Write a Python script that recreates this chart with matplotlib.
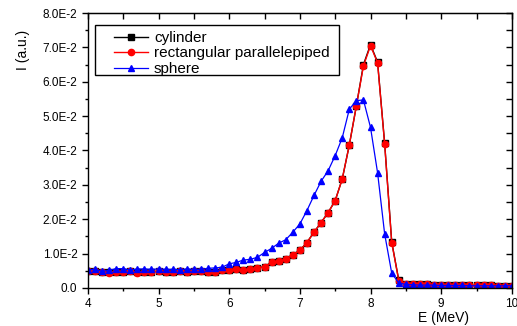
import numpy as np
import matplotlib
matplotlib.use("Agg")
import matplotlib.pyplot as plt
from matplotlib.ticker import MultipleLocator, FuncFormatter
from matplotlib.patches import Rectangle

plt.rcParams['font.family'] = ['Liberation Sans', 'DejaVu Sans']

# energy grid (MeV)
energy = [round(4.0 + 0.1 * k, 1) for k in range(61)]

# 8.5 .. 10.0 MeV
tail = [0.0012, 0.0011, 0.0010, 0.0010, 0.0009, 0.0009, 0.0008, 0.0008,
        0.0008, 0.0007, 0.0007, 0.0007, 0.0007, 0.0006, 0.0006, 0.0006]

cylinder = [0.0049, 0.0050, 0.0046, 0.0045, 0.0047, 0.0046, 0.0048, 0.0045, 0.0045, 0.0047,
            0.0048, 0.0045, 0.0047, 0.0048, 0.0047, 0.0049, 0.0050, 0.0046, 0.0047, 0.0051,
            0.0052, 0.0055, 0.0052, 0.0054, 0.0057, 0.0062, 0.0074, 0.0077, 0.0084, 0.0097,
            0.0109, 0.0132, 0.0162, 0.0190, 0.0219, 0.0254, 0.0317, 0.0416, 0.0530, 0.0650,
            0.0708, 0.0657, 0.0421, 0.0134, 0.0022] + tail

rect_par = [0.0048, 0.0050, 0.0045, 0.0044, 0.0047, 0.0046, 0.0048, 0.0044, 0.0045, 0.0047,
            0.0048, 0.0045, 0.0047, 0.0048, 0.0047, 0.0049, 0.0050, 0.0046, 0.0047, 0.0051,
            0.0052, 0.0055, 0.0052, 0.0054, 0.0057, 0.0062, 0.0074, 0.0077, 0.0084, 0.0097,
            0.0109, 0.0132, 0.0162, 0.0190, 0.0219, 0.0254, 0.0317, 0.0416, 0.0530, 0.0646,
            0.0705, 0.0655, 0.0419, 0.0132, 0.0021] + tail

sphere = [0.0052, 0.0054, 0.0048, 0.0051, 0.0056, 0.0056, 0.0052, 0.0055, 0.0055, 0.0054,
          0.0055, 0.0054, 0.0054, 0.0053, 0.0055, 0.0054, 0.0054, 0.0057, 0.0058, 0.0060,
          0.0070, 0.0074, 0.0081, 0.0083, 0.0089, 0.0103, 0.0115, 0.0130, 0.0140, 0.0162,
          0.0186, 0.0225, 0.0269, 0.0310, 0.0341, 0.0385, 0.0437, 0.0520, 0.0545, 0.0547,
          0.0467, 0.0335, 0.0157, 0.0043, 0.0014, 0.0010, 0.0009, 0.0008, 0.0008, 0.0008,
          0.0007, 0.0007, 0.0007, 0.0007, 0.0006, 0.0006, 0.0006, 0.0006, 0.0006, 0.0006, 0.0006]

fig = plt.figure(figsize=(5.17, 3.26), dpi=100)
ax = fig.add_axes([0.170, 0.117, 0.820, 0.843])

ax.plot(energy, cylinder, color='black', marker='s', ms=4.5, lw=1.0, label='cylinder')
ax.plot(energy, rect_par, color='red', marker='o', ms=4.5, lw=1.0, label='rectangular parallelepiped')
ax.plot(energy, sphere, color='blue', marker='^', ms=5, lw=0.9, label='sphere')

ax.set_xlim(4, 10)
ax.set_ylim(0, 0.08)
ax.xaxis.set_major_locator(MultipleLocator(1))
ax.xaxis.set_minor_locator(MultipleLocator(0.5))
ax.yaxis.set_major_locator(MultipleLocator(0.01))
ax.yaxis.set_minor_locator(MultipleLocator(0.005))


def sci(v, pos):
    if abs(v) < 1e-12:
        return "0.0"
    e = int(np.floor(np.log10(abs(v))))
    m = v / 10 ** e
    return "%.1fE%d" % (m, e)


ax.yaxis.set_major_formatter(FuncFormatter(sci))
ax.tick_params(axis='both', which='major', labelsize=8.5, direction='out', length=4, width=1)
ax.tick_params(axis='both', which='minor', direction='out', length=2.5, width=1)

# top / right ticks pointing inwards
axt = ax.secondary_xaxis('top')
axt.xaxis.set_major_locator(MultipleLocator(0.5))
axt.tick_params(direction='in', length=4, width=1, labeltop=False)
axr = ax.secondary_yaxis('right')
axr.yaxis.set_major_locator(MultipleLocator(0.005))
axr.tick_params(direction='in', length=4, width=1, labelright=False)

for s in ax.spines.values():
    s.set_linewidth(1.0)

ax.set_xlabel('E (MeV)', fontsize=10)
ax.xaxis.set_label_coords(0.84, -0.085)
ax.set_ylabel('I (a.u.)', fontsize=10)
ax.yaxis.set_label_coords(-0.137, 0.867)

# legend box drawn separately (wider side padding than legend allows)
ax.add_patch(Rectangle((0.0165, 0.775), 0.575, 0.182, transform=ax.transAxes,
                       facecolor='white', edgecolor='black', lw=1.0, zorder=4))
leg = ax.legend(loc='upper left', bbox_to_anchor=(0.062, 0.935), fontsize=11,
                frameon=False, handlelength=2.2, borderpad=0, labelspacing=0.1,
                handletextpad=0.4, borderaxespad=0)
leg.set_zorder(5)

fig.savefig('out.png', dpi=100)
